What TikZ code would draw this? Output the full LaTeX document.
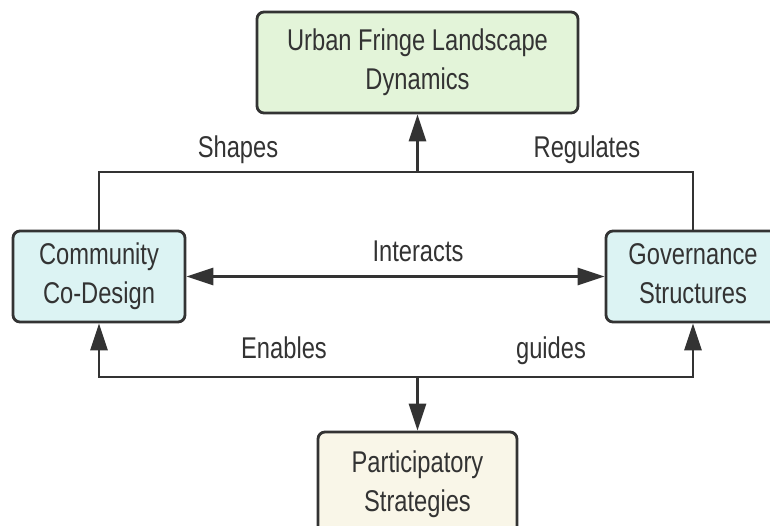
\documentclass[tikz,border=0pt]{standalone}
\usepackage{fontspec}
\setmainfont[FakeStretch=0.79]{Liberation Sans}
\usetikzlibrary{arrows.meta}
\definecolor{edgecol}{HTML}{333333}
\definecolor{txtcol}{HTML}{333333}
\definecolor{greenfill}{HTML}{E3F4D9}
\definecolor{cyanfill}{HTML}{DCF3F3}
\definecolor{creamfill}{HTML}{F9F6E8}
\tikzset{
  box/.style={draw=edgecol, line width=2.8pt, rounded corners=7pt, align=center,
    font=\fontsize{30}{39}\selectfont, text=txtcol, inner sep=0pt},
  lbl/.style={font=\fontsize{30}{34}\selectfont, text=txtcol, inner sep=0pt, anchor=base},
  conn/.style={draw=edgecol, line width=2.8pt},
  arr/.style={conn, -{Triangle[length=27pt, width=17pt]}},
  arrb/.style={conn, {Triangle[length=27pt, width=17pt]}-{Triangle[length=27pt, width=17pt]}}
}
\newcommand{\twoline}[2]{\vphantom{Ag}#1\\\vphantom{Ag}#2}
\begin{document}
\begin{tikzpicture}[x=1pt,y=-1pt]
\useasboundingbox (0,0) rectangle (770,526);
\clip (0,0) rectangle (770,526);
\fill[white] (0,0) rectangle (770,526);
\node[box, fill=greenfill, minimum width=321pt, minimum height=101pt] (top) at (417.5,62.5) {\twoline{Urban Fringe Landscape}{Dynamics}};
\node[box, fill=cyanfill, minimum width=172pt, minimum height=91pt] (left) at (99,276.5) {\twoline{Community}{Co-Design}};
\node[box, fill=cyanfill, minimum width=174pt, minimum height=91pt] (right) at (693,276.5) {\twoline{Governance}{Structures}};
\node[box, fill=creamfill, minimum width=199pt, minimum height=104pt] (bottom) at (417.5,484) {\twoline{Participatory}{Strategies}};
\coordinate (tj) at (417.5,172);
\coordinate (bj) at (417.5,377);
\draw[conn] (left.north) |- (tj) -| (right.north);
\draw[arr] (tj) -- (top.south);
\draw[arrb] (left.east) -- (right.west);
\draw[arr] (bj) -| (left.south);
\draw[arr] (bj) -| (right.south);
\draw[arr] (bj) -- (bottom.north);
\node[lbl] (shapes) at (238,158) {Shapes};
\node[lbl] (regulates) at (587,158) {Regulates};
\node[lbl] (interacts) at (418,262) {Interacts};
\node[lbl] (enables) at (284,358) {Enables};
\node[lbl] (guides) at (551,358) {guides};
\end{tikzpicture}
\end{document}
